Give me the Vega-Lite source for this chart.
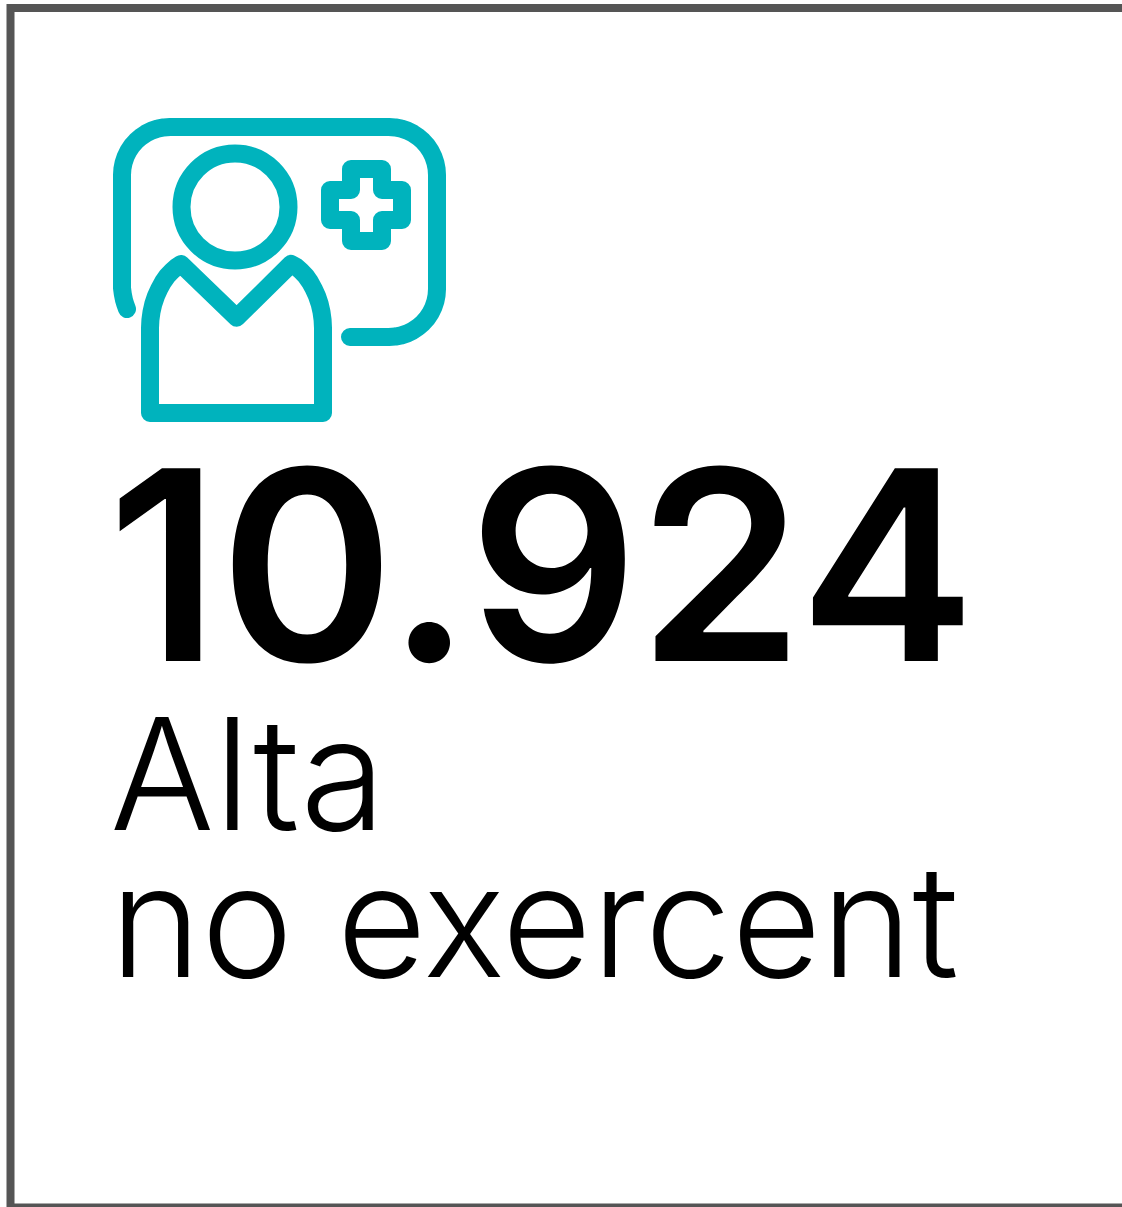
{"$schema":"https://vega.github.io/schema/vega-lite/v6.json","autosize":{"type":"fit","contains":"padding"},"width":1122,"height":1207,"padding":0,"background":"#ffffff","view":{"stroke":null},
"datasets":{
"frame":[{"x":10.5,"y":8,"x2":1140,"y2":1207.5}],
"head":[{"x":235,"y":207}],
"icon":[
{"part":"screen","i":0,"x":127,"y":309},{"part":"screen","i":1,"x":125.2,"y":304},{"part":"screen","i":2,"x":124,"y":300},{"part":"screen","i":3,"x":122.8,"y":294},{"part":"screen","i":4,"x":122,"y":288},{"part":"screen","i":5,"x":122,"y":175},{"part":"screen","i":6,"x":122.41,"y":168.74},{"part":"screen","i":7,"x":123.64,"y":162.58},{"part":"screen","i":8,"x":125.65,"y":156.63},{"part":"screen","i":9,"x":128.43,"y":151},{"part":"screen","i":10,"x":131.92,"y":145.78},{"part":"screen","i":11,"x":136.06,"y":141.06},{"part":"screen","i":12,"x":140.78,"y":136.92},{"part":"screen","i":13,"x":146,"y":133.43},{"part":"screen","i":14,"x":151.63,"y":130.65},{"part":"screen","i":15,"x":157.58,"y":128.64},{"part":"screen","i":16,"x":163.74,"y":127.41},{"part":"screen","i":17,"x":170,"y":127},{"part":"screen","i":18,"x":389,"y":127},{"part":"screen","i":19,"x":395.26,"y":127.41},{"part":"screen","i":20,"x":401.42,"y":128.64},{"part":"screen","i":21,"x":407.37,"y":130.65},{"part":"screen","i":22,"x":413,"y":133.43},{"part":"screen","i":23,"x":418.22,"y":136.92},{"part":"screen","i":24,"x":422.94,"y":141.06},{"part":"screen","i":25,"x":427.08,"y":145.78},{"part":"screen","i":26,"x":430.57,"y":151},{"part":"screen","i":27,"x":433.35,"y":156.63},{"part":"screen","i":28,"x":435.36,"y":162.58},{"part":"screen","i":29,"x":436.59,"y":168.74},{"part":"screen","i":30,"x":437,"y":175},{"part":"screen","i":31,"x":437,"y":289},{"part":"screen","i":32,"x":436.59,"y":295.26},{"part":"screen","i":33,"x":435.36,"y":301.42},{"part":"screen","i":34,"x":433.35,"y":307.37},{"part":"screen","i":35,"x":430.57,"y":313},{"part":"screen","i":36,"x":427.08,"y":318.22},{"part":"screen","i":37,"x":422.94,"y":322.94},{"part":"screen","i":38,"x":418.22,"y":327.08},{"part":"screen","i":39,"x":413,"y":330.57},{"part":"screen","i":40,"x":407.37,"y":333.35},{"part":"screen","i":41,"x":401.42,"y":335.36},{"part":"screen","i":42,"x":395.26,"y":336.59},{"part":"screen","i":43,"x":389,"y":337},{"part":"screen","i":44,"x":350,"y":337},
{"part":"body","i":0,"x":150,"y":413},{"part":"body","i":1,"x":150,"y":328},{"part":"body","i":2,"x":150.4,"y":320},{"part":"body","i":3,"x":151.5,"y":312},{"part":"body","i":4,"x":153.3,"y":304},{"part":"body","i":5,"x":156,"y":296},{"part":"body","i":6,"x":159.2,"y":289},{"part":"body","i":7,"x":163,"y":282},{"part":"body","i":8,"x":167.2,"y":276},{"part":"body","i":9,"x":172,"y":271},{"part":"body","i":10,"x":176.5,"y":267},{"part":"body","i":11,"x":181,"y":264},{"part":"body","i":12,"x":236.7,"y":317.7},{"part":"body","i":13,"x":291,"y":264},{"part":"body","i":14,"x":296.5,"y":267},{"part":"body","i":15,"x":301,"y":271},{"part":"body","i":16,"x":305.8,"y":276},{"part":"body","i":17,"x":310,"y":282},{"part":"body","i":18,"x":313.8,"y":289},{"part":"body","i":19,"x":317,"y":296},{"part":"body","i":20,"x":319.7,"y":304},{"part":"body","i":21,"x":321.5,"y":312},{"part":"body","i":22,"x":322.6,"y":320},{"part":"body","i":23,"x":323,"y":328},{"part":"body","i":24,"x":323,"y":413},{"part":"body","i":25,"x":150,"y":413},
{"part":"cross","i":0,"x":351,"y":169},{"part":"cross","i":1,"x":382,"y":169},{"part":"cross","i":2,"x":382,"y":190},{"part":"cross","i":3,"x":402,"y":190},{"part":"cross","i":4,"x":402,"y":220},{"part":"cross","i":5,"x":382,"y":220},{"part":"cross","i":6,"x":382,"y":241},{"part":"cross","i":7,"x":351,"y":241},{"part":"cross","i":8,"x":351,"y":220},{"part":"cross","i":9,"x":330,"y":220},{"part":"cross","i":10,"x":330,"y":190},{"part":"cross","i":11,"x":351,"y":190},{"part":"cross","i":12,"x":351,"y":169}],
"big":[{"x":107.5,"y":661,"t":"10.924"}],
"small":[{"x":110,"y":830,"t":"Alta"},{"x":110,"y":977,"t":"no exercent"}]},
"layer":[
{"data":{"name":"frame"},"mark":{"type":"rect","fill":null,"stroke":"#555555","strokeWidth":8,"clip":true},"encoding":{"x":{"field":"x","type":"quantitative","scale":{"domain":[0,1122],"nice":false,"zero":false},"axis":null},"y":{"field":"y","type":"quantitative","scale":{"domain":[1207,0],"nice":false,"zero":false},"axis":null},"x2":{"field":"x2"},"y2":{"field":"y2"}}},
{"data":{"name":"icon"},"mark":{"type":"line","stroke":"#00B3BD","strokeWidth":18,"strokeCap":"round","strokeJoin":"round"},"encoding":{"x":{"field":"x","type":"quantitative","axis":null},"y":{"field":"y","type":"quantitative","axis":null},"detail":{"field":"part"},"order":{"field":"i","type":"quantitative"}}},
{"data":{"name":"head"},"mark":{"type":"point","shape":"circle","filled":false,"stroke":"#00B3BD","strokeWidth":18,"opacity":1,"size":11449},"encoding":{"x":{"field":"x","type":"quantitative","axis":null},"y":{"field":"y","type":"quantitative","axis":null}}},
{"data":{"name":"big"},"mark":{"type":"text","font":"Inter","fontWeight":600,"fontSize":265,"align":"left","baseline":"alphabetic","fill":"#000000"},"encoding":{"x":{"field":"x","type":"quantitative","axis":null},"y":{"field":"y","type":"quantitative","axis":null},"text":{"field":"t"}}},
{"data":{"name":"small"},"mark":{"type":"text","font":"Inter","fontWeight":300,"fontSize":155,"align":"left","baseline":"alphabetic","fill":"#000000"},"encoding":{"x":{"field":"x","type":"quantitative","axis":null},"y":{"field":"y","type":"quantitative","axis":null},"text":{"field":"t"}}}
],
"resolve":{"scale":{"x":"shared","y":"shared"}}}
